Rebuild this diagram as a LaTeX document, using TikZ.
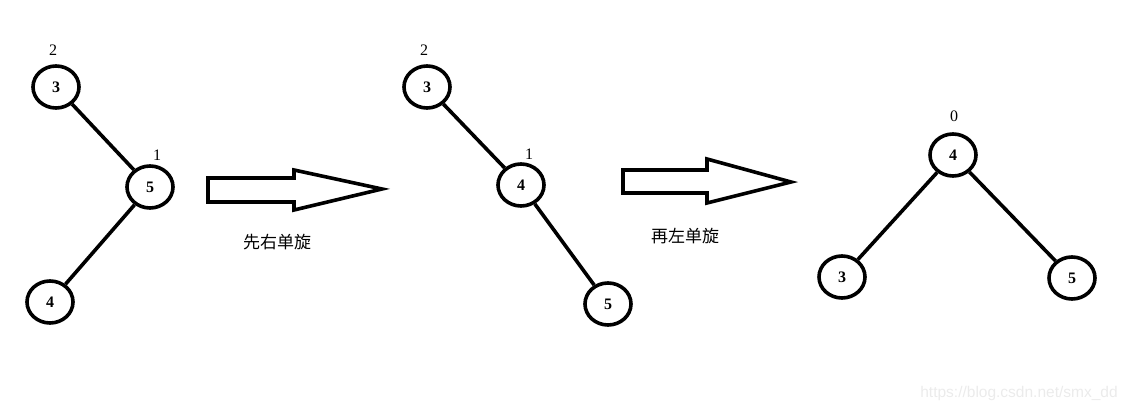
\documentclass[tikz,border=0pt]{standalone}
\usepackage{fontspec}
\setmainfont{Liberation Serif}
\newfontfamily\cjk{Noto Sans CJK SC}
\newfontfamily\wmfont{Liberation Sans}
\usetikzlibrary{shapes.geometric}
\begin{document}
\begin{tikzpicture}[x=1pt,y=-1pt,
  tnode/.style={ellipse,draw,line width=3.6pt,minimum width=46pt,minimum height=42pt,inner sep=0pt,
    font=\fontsize{16}{16}\selectfont\bfseries},
  hlabel/.style={inner sep=0pt,font=\fontsize{16}{16}\selectfont},
  edge/.style={line width=3.6pt},
  bigarrow/.style={line width=3.6pt,line join=miter},
  caption/.style={inner sep=0pt,font=\cjk\fontsize{17}{17}\selectfont}]
\useasboundingbox (0,0) rectangle (1128,411);

% first tree
\node[tnode] (a3) at (56,87) {3};
\node[tnode] (a5) at (150,187) {5};
\node[tnode] (a4) at (50,302) {4};
\node[hlabel] (ah3) at (53,50) {2};
\node[hlabel] (ah5) at (157,155) {1};
\draw[edge] (a3) -- (a5);
\draw[edge] (a5) -- (a4);

% first rotation arrow
\draw[bigarrow] (208,178) -- (294,178) -- (294,170) -- (382,189) -- (294,210) -- (294,202) -- (208,202) -- cycle;
\node[caption] (c1) at (277,242) {先右单旋};

% second tree
\node[tnode] (b3) at (427,87) {3};
\node[tnode] (b4) at (521,185) {4};
\node[tnode] (b5) at (608,304) {5};
\node[hlabel] (bh3) at (424,50) {2};
\node[hlabel] (bh4) at (529,154) {1};
\draw[edge] (b3) -- (b4);
\draw[edge] (b4) -- (b5);

% second rotation arrow
\draw[bigarrow] (623,170) -- (707,170) -- (707,159) -- (791,182) -- (707,203) -- (707,193) -- (623,193) -- cycle;
\node[caption] (c2) at (685,236) {再左单旋};

% third tree
\node[tnode] (c4) at (953,155) {4};
\node[tnode] (c3) at (842,277) {3};
\node[tnode] (c5) at (1072,278) {5};
\node[hlabel] (ch4) at (954,116) {0};
\draw[edge] (c4) -- (c3);
\draw[edge] (c4) -- (c5);

\node[inner sep=0pt,text=black!8,font=\wmfont\fontsize{15.5}{15.5}\selectfont] (wm) at (1019,393) {https://blog.csdn.net/smx\_dd};
\end{tikzpicture}
\end{document}
